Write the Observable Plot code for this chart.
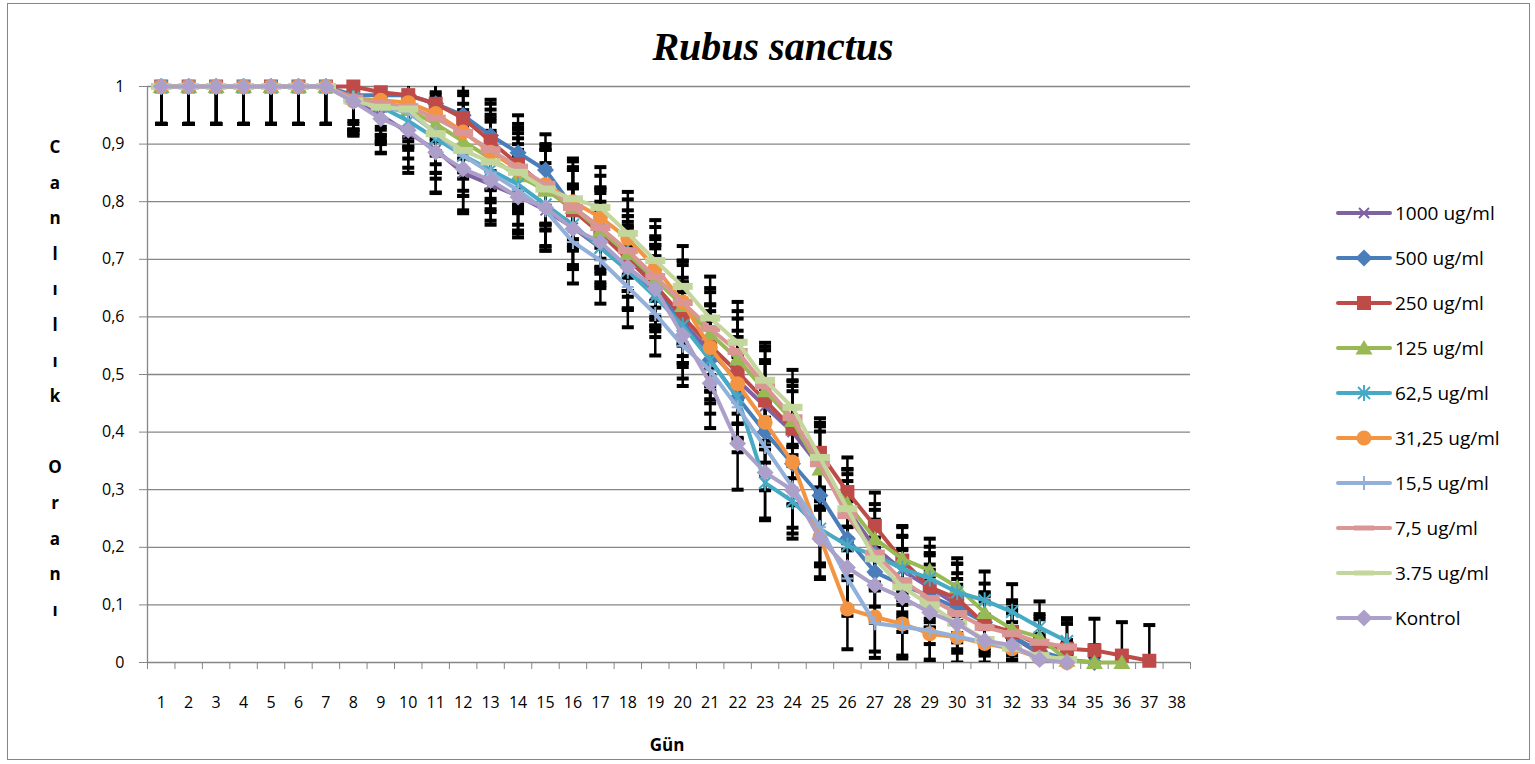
<!DOCTYPE html>
<html><head><meta charset="utf-8">
<script src="https://cdn.jsdelivr.net/npm/d3@7"></script>
<script src="https://cdn.jsdelivr.net/npm/@observablehq/plot@0.6"></script>
<style>
body{margin:0;background:#fff;}
#wrap{position:relative;width:1535px;height:764px;overflow:hidden;font-family:"Open Sans",sans-serif;color:#000;}
#frame{position:absolute;left:7px;top:3px;width:1523px;height:757px;border:1px solid #868686;box-sizing:border-box;}
#chart{position:absolute;left:0;top:0;}
#title{position:absolute;left:473px;width:600px;top:25px;text-align:center;font:bold italic 40px "Liberation Serif",serif;line-height:44px;}
#ylab{position:absolute;left:35px;width:40px;top:129px;text-align:center;font-weight:bold;font-size:17px;line-height:35.6px;}
#xlab{position:absolute;left:567px;width:200px;top:733px;text-align:center;font-weight:bold;font-size:17px;line-height:24px;}
#legend{position:absolute;left:1336px;top:190px;}
.lrow{height:45.1px;display:flex;align-items:center;font-size:19px;white-space:nowrap;}
.lrow svg{margin-right:3px;}
#chart g[aria-label="y-axis tick"] path, #chart g[aria-label="x-axis tick"] path{stroke:#868686;}
</style>
</head><body>
<div id="wrap">
  <div id="frame"></div>
  <div id="chart"></div>
  <div id="title">Rubus sanctus</div>
  <div id="ylab"></div>
  <div id="xlab">Gün</div>
  <div id="legend"></div>
</div>
<script>
const dayTicks = [1,2,3,4,5,6,7,8,9,10,11,12,13,14,15,16,17,18,19,20,21,22,23,24,25,26,27,28,29,30,31,32,33,34,35,36,37,38];
const yTicks = [0,0.1,0.2,0.3,0.4,0.5,0.6,0.7,0.8,0.9,1];
const yTickLabels = ["0","0,1","0,2","0,3","0,4","0,5","0,6","0,7","0,8","0,9","1"];
const seriesNames = ["1000 ug/ml","500 ug/ml","250 ug/ml","125 ug/ml","62,5 ug/ml","31,25 ug/ml","15,5 ug/ml","7,5 ug/ml","3.75 ug/ml","Kontrol"];

// survival ratio per day (day 1 onward)
const v1000 = [1,1,1,1,1,1,1,.975,.95,.92,.89,.85,.83,.81,.785,.755,.72,.685,.64,.59,.54,.49,.445,.40,.34,.265,.20,.16,.13,.10,.07,.045,.015,0];
const v500  = [1,1,1,1,1,1,1,.985,.985,.985,.97,.95,.915,.885,.855,.79,.755,.71,.655,.59,.525,.46,.40,.345,.29,.215,.157,.135,.115,.095,.07,.045,.02,.005,0];
const v250  = [1,1,1,1,1,1,1,1,.99,.985,.97,.945,.905,.865,.825,.785,.745,.70,.655,.60,.55,.504,.455,.406,.364,.296,.237,.177,.131,.111,.067,.053,.03,.024,.021,.012,.003];
const v125  = [1,1,1,1,1,1,1,.98,.975,.96,.935,.905,.875,.845,.82,.79,.75,.71,.665,.62,.571,.527,.472,.42,.336,.276,.215,.18,.16,.131,.087,.058,.044,.004,0,0];
const v625  = [1,1,1,1,1,1,1,.98,.965,.94,.91,.88,.855,.83,.795,.76,.72,.68,.635,.585,.525,.46,.312,.28,.232,.203,.186,.163,.146,.122,.108,.088,.061,.037];
const v3125 = [1,1,1,1,1,1,1,.975,.976,.972,.953,.921,.886,.856,.83,.80,.773,.736,.686,.626,.547,.484,.417,.348,.218,.093,.079,.067,.05,.044,.033,.024,.008,0];
const v155  = [1,1,1,1,1,1,1,.98,.965,.955,.92,.88,.85,.82,.785,.73,.698,.652,.605,.55,.507,.443,.374,.304,.235,.146,.068,.062,.055,.045,.035,.025,.01,0];
const v75   = [1,1,1,1,1,1,1,.98,.97,.965,.945,.92,.89,.86,.83,.79,.755,.715,.67,.625,.58,.54,.48,.425,.345,.255,.19,.142,.111,.085,.061,.05,.035,.027];
const v375  = [1,1,1,1,1,1,1,.975,.964,.961,.918,.889,.869,.851,.822,.805,.79,.745,.698,.653,.598,.556,.49,.443,.356,.267,.18,.131,.10,.068,.04,.025,.012,.005];
const vK    = [1,1,1,1,1,1,1,.974,.944,.924,.886,.857,.837,.808,.79,.753,.73,.686,.649,.568,.485,.38,.33,.299,.215,.165,.134,.113,.087,.067,.038,.03,.005,0];

// error bar half-lengths
const e1000 = [.065,.065,.065,.065,.065,.065,.065,.06,.065,.07,.075,.07,.07,.065,.07,.07,.065,.07,.065,.07,.07,.075,.075,.08,.075,.07,.065,.06,.06,.055,.05,.045,.03,.02];
const e500  = [.065,.065,.065,.065,.065,.065,.065,.05,.055,.06,.06,.065,.062,.065,.062,.065,.07,.065,.07,.07,.068,.072,.075,.07,.07,.065,.06,.06,.055,.05,.045,.04,.03,.02,.01];
const e250  = [.065,.065,.065,.065,.065,.065,.065,.06,.065,.06,.065,.07,.065,.07,.065,.07,.07,.065,.07,.068,.07,.072,.07,.065,.06,.06,.058,.06,.055,.06,.055,.055,.05,.05,.055,.058,.062];
const e125  = [.065,.065,.065,.065,.065,.065,.065,.055,.06,.065,.07,.065,.07,.065,.07,.068,.07,.065,.07,.07,.072,.07,.07,.068,.065,.06,.06,.055,.055,.05,.05,.045,.04,.035,.03,.02];
const e625  = [.065,.065,.065,.065,.065,.065,.065,.06,.065,.065,.07,.07,.068,.07,.072,.07,.07,.068,.07,.072,.075,.07,.065,.065,.06,.06,.058,.055,.055,.05,.05,.048,.045,.04];
const e3125 = [.065,.065,.065,.065,.065,.065,.065,.05,.06,.06,.065,.07,.065,.07,.068,.07,.072,.068,.07,.072,.075,.07,.07,.075,.07,.07,.06,.055,.05,.045,.04,.035,.025,.015];
const e155  = [.065,.065,.065,.065,.065,.065,.065,.055,.06,.065,.07,.07,.068,.07,.07,.072,.075,.07,.072,.07,.075,.078,.075,.07,.068,.065,.06,.055,.05,.045,.04,.035,.025,.015];
const e75   = [.065,.065,.065,.065,.065,.065,.065,.055,.06,.06,.065,.065,.07,.068,.07,.07,.068,.07,.07,.072,.07,.07,.068,.065,.065,.06,.058,.055,.05,.05,.045,.045,.04,.04];
const e375  = [.065,.065,.065,.065,.065,.065,.065,.06,.06,.065,.068,.07,.07,.068,.07,.07,.07,.072,.07,.07,.072,.07,.065,.065,.06,.06,.055,.05,.05,.045,.04,.035,.03,.025];
const eK    = [.065,.065,.065,.065,.065,.065,.065,.055,.06,.065,.07,.072,.07,.07,.068,.07,.07,.072,.07,.075,.078,.08,.08,.075,.07,.07,.065,.06,.055,.05,.045,.04,.03,.02];

const values = [v1000,v500,v250,v125,v625,v3125,v155,v75,v375,vK];
const errors = [e1000,e500,e250,e125,e625,e3125,e155,e75,e375,eK];

// styles
const colors = ["#7F62A2","#4A7EBB","#BE4B48","#98B954","#46AAC5","#F39443","#92B0DA","#D99694","#C3D69B","#ACA0CB"];
const mk = f => ({draw(c){ f(c); }});
const symX = mk(c => {const s=5; c.moveTo(-s,-s); c.lineTo(s,s); c.moveTo(s,-s); c.lineTo(-s,s);});
const symDiamond = mk(c => {const h=8.5; c.moveTo(0,-h); c.lineTo(h,0); c.lineTo(0,h); c.lineTo(-h,0); c.closePath();});
const symSquare = mk(c => {const s=7; c.rect(-s,-s,2*s,2*s);});
const symTriangle = mk(c => {c.moveTo(0,-8); c.lineTo(8.5,6.5); c.lineTo(-8.5,6.5); c.closePath();});
const symStar = mk(c => {const s=6; c.moveTo(-s,-s); c.lineTo(s,s); c.moveTo(s,-s); c.lineTo(-s,s); c.moveTo(0,-8); c.lineTo(0,8);});
const symCircle = mk(c => {c.moveTo(7.5,0); c.arc(0,0,7.5,0,2*Math.PI); c.closePath();});
const symPlus = mk(c => {c.moveTo(-6,0); c.lineTo(6,0); c.moveTo(0,-7); c.lineTo(0,7);});
const symDash = mk(c => c.rect(-10,-3.5,20,7));
const symDashLegend = mk(c => c.rect(-10,-2.5,20,5));
const symCap = mk(c => c.rect(-6,-2,12,4));
const markers = [
  {symbol: symX, filled: false},
  {symbol: symDiamond, filled: true},
  {symbol: symSquare, filled: true},
  {symbol: symTriangle, filled: true},
  {symbol: symStar, filled: false},
  {symbol: symCircle, filled: true},
  {symbol: symPlus, filled: false},
  {symbol: symDash, filled: true, legend: symDashLegend},
  {symbol: symDash, filled: true, legend: symDashLegend},
  {symbol: symDiamond, filled: true}
];

const table = [];
seriesNames.forEach((name, si) => {
  values[si].forEach((v, i) => table.push({series: name, si, day: dayTicks[i], v, e: errors[si][i]}));
});
const caps = table.flatMap(d => [{day: d.day, y: d.v + d.e}, {day: d.day, y: d.v - d.e}]);
const bounds = [0.5].concat(dayTicks.map(d => d + 0.5));

const marks = [
  Plot.gridY(yTicks.slice(1), {stroke: "#868686", strokeOpacity: 1, strokeWidth: 1.3}),
  Plot.ruleX([0.5], {stroke: "#868686", strokeWidth: 1.3}),
  Plot.ruleY([0], {stroke: "#868686", strokeWidth: 1.3}),
  Plot.axisY(yTicks, {tickSize: 8, tickFormat: () => "", label: null}),
  Plot.axisY(yTicks, {tickSize: 0, tickPadding: 23, tickFormat: d => yTickLabels[Math.round(d * 10)], label: null, fontSize: 16}),
  Plot.axisX(bounds, {tickSize: 7, tickFormat: () => "", label: null}),
  Plot.axisX(dayTicks, {tickSize: 0, tickPadding: 34, label: null, fontSize: 16}),
  Plot.ruleX(table, {x: "day", y1: d => d.v - d.e, y2: d => d.v + d.e, stroke: "#000", strokeWidth: 2.5, clip: true}),
  Plot.dot(caps, {x: "day", y: "y", symbol: symCap, fill: "#000", stroke: "none", clip: true})
];
seriesNames.forEach((name, si) => {
  const rows = table.filter(d => d.si === si);
  marks.push(Plot.line(rows, {x: "day", y: "v", stroke: colors[si], strokeWidth: 4, strokeLinejoin: "round", strokeLinecap: "round"}));
  const m = markers[si];
  marks.push(Plot.dot(rows, {x: "day", y: "v", symbol: m.symbol,
    fill: m.filled ? colors[si] : "none", stroke: m.filled ? "none" : colors[si], strokeWidth: 2}));
});

const chart = Plot.plot({
  width: 1200, height: 724,
  marginLeft: 147, marginRight: 10, marginTop: 86, marginBottom: 62,
  x: {type: "linear", domain: [0.5, 38.5]},
  y: {type: "linear", domain: [0, 1]},
  style: {fontFamily: "'Open Sans', sans-serif", fontSize: "16px", color: "#000", background: "transparent", overflow: "visible"},
  marks
});
document.getElementById("chart").appendChild(chart);

// y-axis title (stacked letters)
const ylabLetters = ["C","a","n","l","ı","l","ı","k","\u00a0","O","r","a","n","ı"];
document.getElementById("ylab").innerHTML = ylabLetters.map(l => `<div>${l}</div>`).join("");

// legend
const leg = document.getElementById("legend");
seriesNames.forEach((name, si) => {
  const row = document.createElement("div");
  row.className = "lrow";
  const svg = d3.create("svg").attr("width", 56).attr("height", 24);
  svg.append("line").attr("x1", 2).attr("x2", 54).attr("y1", 12).attr("y2", 12)
    .attr("stroke", colors[si]).attr("stroke-width", 4).attr("stroke-linecap", "round");
  const m = markers[si];
  svg.append("path").attr("transform", "translate(28,12)")
    .attr("d", d3.symbol(m.legend || m.symbol)())
    .attr("fill", m.filled ? colors[si] : "none")
    .attr("stroke", m.filled ? "none" : colors[si]).attr("stroke-width", 2);
  row.appendChild(svg.node());
  const t = document.createElement("span");
  t.textContent = name;
  row.appendChild(t);
  leg.appendChild(row);
});
</script>
</body></html>
